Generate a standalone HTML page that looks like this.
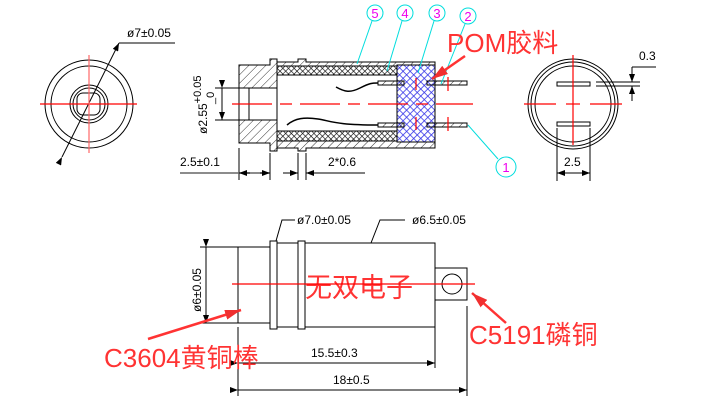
<!DOCTYPE html>
<html><head><meta charset="utf-8"><style>
html,body{margin:0;padding:0;background:#fff;width:703px;height:402px;overflow:hidden}
svg text{font-family:"Liberation Sans","Noto Sans CJK SC",sans-serif}
</style></head><body>
<svg width="703" height="402" viewBox="0 0 703 402" xmlns="http://www.w3.org/2000/svg">
<defs>
<pattern id="hat" width="6" height="6" patternUnits="userSpaceOnUse" patternTransform="rotate(45)"><line x1="0" y1="0" x2="0" y2="6" stroke="#000" stroke-width="0.8"/></pattern>
<pattern id="xh" width="4" height="4" patternUnits="userSpaceOnUse" patternTransform="rotate(45)"><rect width="4" height="4" fill="#fff"/><path d="M0 0H4M0 0V4" stroke="#000" stroke-width="1.2"/></pattern>
<pattern id="bh" width="5" height="5" patternUnits="userSpaceOnUse" patternTransform="rotate(45)"><rect width="5" height="5" fill="#fff"/><path d="M0 0H5M0 0V5" stroke="#3434e8" stroke-width="1.6"/></pattern>
<marker id="ar" markerWidth="8" markerHeight="6" refX="8" refY="3" orient="auto" markerUnits="userSpaceOnUse"><path d="M0 0L8 3L0 6z" fill="#000"/></marker>
<marker id="rar" markerWidth="16" markerHeight="10" refX="16" refY="5" orient="auto" markerUnits="userSpaceOnUse"><path d="M0 0L16 5L0 10z" fill="#f03030"/></marker>
</defs>
<g fill="none" stroke="#000" stroke-width="1">
<circle cx="89" cy="104" r="44"/><circle cx="89" cy="104" r="38"/>
<circle cx="89" cy="104" r="19"/><circle cx="89" cy="104" r="16"/>
<rect x="77" y="93" width="23" height="22" rx="6"/>
<line x1="62" y1="157" x2="119" y2="43" marker-end="url(#ar)" marker-start="url(#ar)"/>
<line x1="119" y1="43" x2="175" y2="43"/>
</g>
<g stroke="#f00" stroke-width="1.2">
<line x1="40" y1="104" x2="137" y2="104"/><line x1="89" y1="55" x2="89" y2="153" stroke="#f66"/>
</g>
<text x="127" y="37" font-size="12">ø7±0.05</text>

<g stroke="#000" stroke-width="1">
<path d="M239 65H270V59H277V62H298V59H306V62H435V148H306V151H298V148H277V151H270V143H239Z" fill="url(#hat)"/>
<rect x="277" y="66" width="120" height="75" fill="#fff"/>
<rect x="277" y="66" width="120" height="9" fill="url(#xh)"/>
<rect x="277" y="131" width="120" height="10" fill="url(#xh)"/>
<rect x="397" y="65" width="38" height="77" fill="url(#bh)"/>
<rect x="249" y="88" width="28" height="32" fill="#fff"/>
<rect x="239" y="88" width="10" height="32" fill="#fff"/>
<line x1="277" y1="62" x2="277" y2="148"/>
<rect x="378" y="81" width="26" height="4" fill="url(#hat)"/>
<rect x="427" y="81" width="40" height="4" fill="url(#hat)"/>
<rect x="378" y="123" width="26" height="4" fill="url(#hat)"/>
<rect x="427" y="123" width="40" height="4" fill="url(#hat)"/>
<path d="M336 87C345 92 350 93 360 88S372 83 378 83" fill="none" stroke-width="1.5"/>
<path d="M287 125C295 118 305 117 318 119S335 125 378 125" fill="none" stroke-width="1.5"/>
</g>
<g stroke="#f00" stroke-width="1.2">
<line x1="232" y1="104" x2="473" y2="104" stroke-dasharray="40 8 12 8"/>
<line x1="416" y1="78" x2="416" y2="90"/><line x1="416" y1="117" x2="416" y2="130"/>
<line x1="448" y1="77" x2="448" y2="91"/><line x1="448" y1="117" x2="448" y2="131"/>
</g>
<g stroke="#000" fill="none">
<line x1="222" y1="88" x2="222" y2="120" marker-end="url(#ar)" marker-start="url(#ar)"/>
<line x1="215" y1="88" x2="239" y2="88"/><line x1="215" y1="120" x2="239" y2="120"/>
<line x1="239" y1="148" x2="239" y2="180"/><line x1="270" y1="153" x2="270" y2="180"/>
<line x1="298" y1="153" x2="298" y2="180"/><line x1="306" y1="153" x2="306" y2="180"/>
<line x1="180" y1="173" x2="270" y2="173" stroke="#666" stroke-width="1.5"/>
<line x1="250" y1="173" x2="239" y2="173" marker-end="url(#ar)"/><line x1="260" y1="173" x2="270" y2="173" marker-end="url(#ar)"/>
<line x1="283" y1="173" x2="298" y2="173" marker-end="url(#ar)"/><line x1="320" y1="173" x2="306" y2="173" marker-end="url(#ar)"/>
<line x1="306" y1="173" x2="365" y2="173"/>
</g>
<text transform="translate(207,134) rotate(-90)" font-size="12">ø2.55<tspan dy="-6" font-size="11">+0.05</tspan></text>
<text transform="translate(214,104) rotate(-90)" font-size="11">_0</text>
<text x="180" y="166" font-size="12">2.5±0.1</text>
<text x="328" y="166" font-size="12">2*0.6</text>
<g stroke="#0dd" fill="none">
<circle cx="375" cy="13" r="8"/><circle cx="405" cy="13" r="8"/><circle cx="437" cy="13" r="8"/><circle cx="468" cy="16" r="8"/><circle cx="506" cy="167" r="10"/>
<line x1="372" y1="21" x2="357" y2="64"/><line x1="402" y1="21" x2="387" y2="71"/>
<line x1="434" y1="21" x2="418" y2="73"/><line x1="465" y1="24" x2="441" y2="84"/>
<line x1="498" y1="159" x2="468" y2="125"/>
</g>
<g fill="#e0e" font-size="13" text-anchor="middle">
<text x="375" y="18">5</text><text x="405" y="18">4</text><text x="437" y="18">3</text><text x="468" y="21">2</text><text x="506" y="172">1</text>
</g>
<text x="447" y="52" font-size="26" fill="#f33">POM胶料</text>
<line x1="465" y1="56" x2="432" y2="79" stroke="#f33" stroke-width="2.5" marker-end="url(#rar)"/>

<g fill="none" stroke="#000">
<circle cx="573" cy="104" r="45"/><circle cx="573" cy="104" r="42"/><circle cx="573" cy="104" r="38"/>
<rect x="557" y="82" width="33" height="4"/><rect x="557" y="122" width="33" height="4"/>
<line x1="596" y1="82" x2="640" y2="82"/><line x1="596" y1="86" x2="640" y2="86"/>
<line x1="632" y1="67" x2="632" y2="82" marker-end="url(#ar)"/><line x1="632" y1="101" x2="632" y2="86" marker-end="url(#ar)"/>
<line x1="632" y1="67" x2="656" y2="67"/>
<line x1="557" y1="128" x2="557" y2="181"/><line x1="590" y1="128" x2="590" y2="181"/>
<line x1="573" y1="173" x2="557" y2="173" marker-end="url(#ar)"/><line x1="573" y1="173" x2="590" y2="173" marker-end="url(#ar)"/>
</g>
<g stroke="#f00" stroke-width="1.2">
<line x1="524" y1="104" x2="556" y2="104"/><line x1="566" y1="104" x2="580" y2="104"/><line x1="590" y1="104" x2="622" y2="104"/>
<line x1="573" y1="55" x2="573" y2="145"/>
</g>
<text x="639" y="60" font-size="12">0.3</text>
<text x="564" y="166" font-size="12">2.5</text>

<g fill="#fff" stroke="#000">
<rect x="238" y="247" width="32" height="76"/>
<rect x="277" y="243" width="158" height="84"/>
<rect x="270" y="241" width="7" height="88"/><rect x="298" y="241" width="7" height="88"/>
<rect x="435" y="268" width="32" height="32"/>
<circle cx="452" cy="284" r="10"/>
</g>
<text x="305" y="297" font-size="27" fill="#f33">无双电子</text>
<line x1="232" y1="284" x2="475" y2="284" stroke="#f00" stroke-width="1.2"/>
<g stroke="#000" fill="none">
<line x1="200" y1="247" x2="238" y2="247"/><line x1="200" y1="323" x2="238" y2="323"/>
<line x1="206" y1="247" x2="206" y2="323" marker-end="url(#ar)" marker-start="url(#ar)"/>
<polyline points="276,241 282,220 295,220"/><polyline points="371,243 380,220 405,220"/>
<line x1="238" y1="327" x2="238" y2="396"/><line x1="435" y1="327" x2="435" y2="368"/><line x1="467" y1="306" x2="467" y2="396"/>
<line x1="238" y1="363" x2="435" y2="363" marker-end="url(#ar)" marker-start="url(#ar)"/>
<line x1="238" y1="390" x2="467" y2="390" marker-end="url(#ar)" marker-start="url(#ar)"/>
</g>
<text transform="translate(201,312) rotate(-90)" font-size="12">ø6±0.05</text>
<text x="297" y="224" font-size="12">ø7.0±0.05</text>
<text x="412" y="224" font-size="12">ø6.5±0.05</text>
<text x="311" y="357" font-size="12">15.5±0.3</text>
<text x="333" y="384" font-size="12">18±0.5</text>
<text x="104" y="367" font-size="26" fill="#f33">C3604黄铜棒</text>
<text x="469" y="344" font-size="26" fill="#f33">C5191磷铜</text>
<line x1="148" y1="339" x2="241" y2="310" stroke="#f33" stroke-width="2.5" marker-end="url(#rar)"/>
<line x1="506" y1="323" x2="472" y2="293" stroke="#f33" stroke-width="2.5" marker-end="url(#rar)"/>
</svg>
</body></html>
